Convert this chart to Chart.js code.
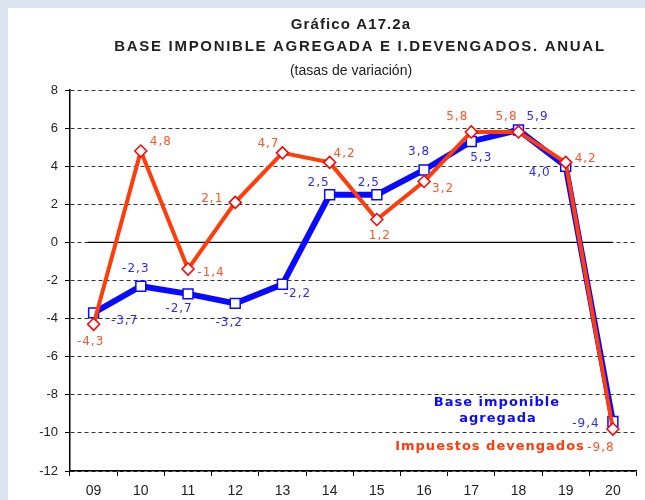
<!DOCTYPE html>
<html>
<head>
<meta charset="utf-8">
<script src="https://cdn.jsdelivr.net/npm/chart.js@4.4.1/dist/chart.umd.min.js"></script>
<style>
  html, body { margin: 0; padding: 0; background: #dbe5f1; }
  #wrap { position: absolute; left: 8px; top: 8px; width: 637px; height: 492px; background: #fff; }
</style>
</head>
<body>
<div id="wrap"><canvas id="grafico" width="637" height="492"></canvas></div>
<script>
// datos
var years = ["09", "10", "11", "12", "13", "14", "15", "16", "17", "18", "19", "20"];
var baseImponible = [-3.7, -2.3, -2.7, -3.2, -2.2, 2.5, 2.5, 3.8, 5.3, 5.9, 4.0, -9.4];
var impuestosDev = [-4.3, 4.8, -1.4, 2.1, 4.7, 4.2, 1.2, 3.2, 5.8, 5.8, 4.2, -9.8];
var yTicks = [-12, -10, -8, -6, -4, -2, 0, 2, 4, 6, 8];

// desplazamiento de las etiquetas respecto al punto
var offBase = [[31, 8], [-5, -17], [-9, 15], [-6, 20], [15, 10], [-11, -12], [-8, -12], [-5, -18], [10, 16], [19, -13], [-26, 7], [-27, 2]];
var offImp = [[-3, 18], [20, -9], [23, 4], [-23, -4], [-14, -9], [15, -9], [3, 16], [19, 7], [-14, -15], [-12, -15], [20, -4], [-12, 19]];

var azul = '#0a0aff';
var naranja = '#ff3c0a';

var fmt = function (v) { return v.toFixed(1).replace('.', ','); };

var extras = {
  id: 'extras',
  beforeDatasetsDraw: function (chart) {
    var c = chart.ctx, y = chart.scales.y, x = chart.scales.x;
    var y0 = y.getPixelForValue(0);
    c.save();
    c.strokeStyle = '#000';
    c.lineWidth = 1.2;
    c.beginPath();
    c.moveTo(x.getPixelForValue(0) - 6, y0);
    c.lineTo(x.getPixelForValue(years.length - 1), y0);
    c.stroke();
    c.restore();
  },
  afterDatasetsDraw: function (chart) {
    var c = chart.ctx;
    c.save();
    c.textAlign = 'center';
    c.textBaseline = 'middle';
    c.letterSpacing = '1px';
    c.font = '12px "DejaVu Sans", Verdana, sans-serif';
    var sets = [[baseImponible, offBase, '#2a2aff', 1], [impuestosDev, offImp, '#ff5528', 0]];
    sets.forEach(function (s) {
      var meta = chart.getDatasetMeta(s[3]);
      c.fillStyle = s[2];
      s[0].forEach(function (v, i) {
        var p = meta.data[i];
        c.fillText(fmt(v), p.x + s[1][i][0], p.y + s[1][i][1]);
      });
    });
    // leyenda
    c.font = 'bold 13px "DejaVu Sans", Verdana, sans-serif';
    c.fillStyle = azul;
    c.fillText('Base imponible', 489, 395);
    c.fillText('agregada', 490, 411);
    c.fillStyle = naranja;
    c.fillText('Impuestos devengados', 482, 439);
    // titulos
    c.fillStyle = '#222';
    c.font = 'bold 15px "Liberation Sans", Arial, sans-serif';
    c.letterSpacing = '1.1px';
    c.fillText('Gráfico A17.2a', 343, 17);
    c.letterSpacing = '1.7px';
    c.fillText('BASE IMPONIBLE AGREGADA E I.DEVENGADOS. ANUAL', 352, 39);
    c.letterSpacing = '0px';
    c.font = '14px "Liberation Sans", Arial, sans-serif';
    c.fillText('(tasas de variación)', 343, 63);
    c.restore();
  }
};

var ctx = document.getElementById('grafico').getContext('2d');
var chart = new Chart(ctx, {
  type: 'line',
  data: {
    labels: years,
    datasets: [{
        label: 'Impuestos devengados',
        data: impuestosDev,
        borderColor: naranja,
        borderWidth: 4,
        pointStyle: 'rectRot',
        pointRadius: 6,
        pointBorderWidth: 1.5,
        pointBorderColor: '#ff0000',
        pointBackgroundColor: '#fff',
        tension: 0,
        order: 0
      },
      {
        label: 'Base imponible agregada',
        data: baseImponible,
        borderColor: azul,
        borderWidth: 6,
        pointStyle: 'rect',
        pointRadius: 7,
        pointBorderWidth: 1.5,
        pointBorderColor: azul,
        pointBackgroundColor: '#fff',
        tension: 0,
        order: 1
      }
    ]
  },
  options: {
    responsive: false,
    animation: false,
    devicePixelRatio: 1,
    layout: { padding: { left: 0, right: 1, top: 82, bottom: 0 } },
    plugins: { legend: { display: false }, tooltip: { enabled: false } },
    scales: {
      x: {
        offset: true,
        afterFit: function (s) { s.height = 29; },
        grid: { offset: true, drawOnChartArea: false, tickLength: 5, color: '#000' },
        border: { color: '#000', width: 1.5 },
        ticks: { color: '#222', padding: 7, font: { family: '"Liberation Sans", Arial, sans-serif', size: 14 } }
      },
      y: {
        min: -12,
        max: 8,
        afterFit: function (s) { s.width = 62; },
        afterBuildTicks: function (s) { s.ticks = yTicks.map(function (v) { return { value: v }; }); },
        grid: { color: '#333', lineWidth: 1, tickLength: 5, tickColor: '#000', tickBorderDash: [] },
        border: { color: '#000', width: 1.5, dash: [4, 3] },
        ticks: { color: '#222', padding: 7, font: { family: '"Liberation Sans", Arial, sans-serif', size: 13 } }
      }
    }
  },
  plugins: [extras]
});
</script>
</body>
</html>
